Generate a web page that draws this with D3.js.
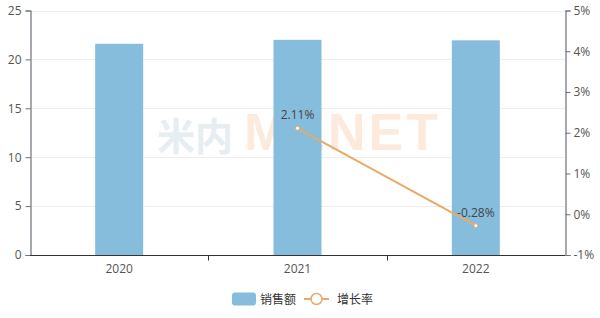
<!DOCTYPE html>
<html>
<head>
<meta charset="utf-8">
<script src="https://cdn.jsdelivr.net/npm/d3@7"></script>
<style>
  html, body { margin: 0; padding: 0; background: #fff; }
  svg text { font-family: "Open Sans", "Noto Sans CJK SC", sans-serif; }
</style>
</head>
<body>
<div id="chart"></div>
<script>
var years = ['2020', '2021', '2022'];
var sales = [21.6, 22.0, 21.95];
var growth = [null, 2.11, -0.28];
var leftTicks = [0, 5, 10, 15, 20, 25];
var rightTicks = [-1, 0, 1, 2, 3, 4, 5];
var legendNames = ['销售额', '增长率'];

(function() {
  var width = 600, height = 318,
      left = 30, right = 565, top = 10.5, bottom = 255,
      barColor = '#86bddc', lineColor = '#e8a96a',
      axisColor = '#6e7079', textColor = '#555';

  var svg = d3.select('#chart').append('svg')
      .attr('width', width)
      .attr('height', height);

  var x = d3.scaleBand().domain(years).range([left, right]);
  var yL = d3.scaleLinear().domain([0, 25]).range([bottom, top]);
  var yR = d3.scaleLinear().domain([-1, 5]).range([bottom, top]);

  // grid
  svg.append('g').selectAll('line').data(leftTicks.slice(1))
      .enter().append('line')
      .attr('x1', left).attr('x2', right)
      .attr('y1', function(d) { return Math.round(yL(d)) + 0.5; })
      .attr('y2', function(d) { return Math.round(yL(d)) + 0.5; })
      .attr('stroke', '#eeeeee');

  // watermark (behind the bars), one text so the two parts don't collide
  var wm = svg.append('text')
      .attr('x', 157).attr('y', 150)
      .attr('font-weight', 'bold');
  wm.append('tspan')
      .attr('font-size', 38)
      .attr('fill', '#e6eef2')
      .style('font-family', '"Noto Sans CJK SC", sans-serif')
      .text('米内');
  wm.append('tspan')
      .attr('dx', 11)
      .attr('font-size', 52)
      .attr('letter-spacing', 3)
      .attr('fill', '#fcebdc')
      .style('font-family', '"Liberation Sans", sans-serif')
      .text('MENET');

  // bars
  var barW = 48;
  svg.append('g').selectAll('rect').data(sales)
      .enter().append('rect')
      .attr('x', function(d, i) { return x(years[i]) + x.bandwidth() / 2 - barW / 2; })
      .attr('y', function(d) { return yL(d); })
      .attr('width', barW)
      .attr('height', function(d) { return bottom - yL(d); })
      .attr('fill', barColor);

  // left axis
  var axL = svg.append('g')
      .attr('transform', 'translate(' + (left + 0.5) + ',0)')
      .call(d3.axisLeft(yL).tickValues(leftTicks).tickSize(5).tickPadding(4));
  // right axis
  var axR = svg.append('g')
      .attr('transform', 'translate(' + (right + 0.5) + ',0)')
      .call(d3.axisRight(yR).tickValues(rightTicks).tickSize(5).tickPadding(3)
          .tickFormat(function(d) { return d + '%'; }));
  [axL, axR].forEach(function(ax) {
    ax.select('.domain').attr('stroke', axisColor).attr('stroke-width', 1.2);
    ax.selectAll('.tick line').attr('stroke', axisColor);
    ax.selectAll('.tick text').attr('fill', textColor).attr('font-size', 12);
  });

  // bottom axis
  var axB = svg.append('g').attr('transform', 'translate(0,' + (bottom + 0.5) + ')');
  axB.append('line').attr('x1', left).attr('x2', right)
      .attr('stroke', '#333').attr('stroke-width', 1);
  axB.selectAll('line.tk').data(years.slice(1))
      .enter().append('line').attr('class', 'tk')
      .attr('x1', function(d) { return Math.round(x(d)) + 0.5; })
      .attr('x2', function(d) { return Math.round(x(d)) + 0.5; })
      .attr('y1', 0).attr('y2', 5)
      .attr('stroke', '#333');
  axB.selectAll('text').data(years)
      .enter().append('text')
      .attr('x', function(d) { return x(d) + x.bandwidth() / 2; })
      .attr('y', 17)
      .attr('text-anchor', 'middle')
      .attr('font-size', 12).attr('fill', textColor)
      .text(function(d) { return d; });

  // line
  var pts = growth.map(function(v, i) { return { v: v, k: years[i] }; })
      .filter(function(p) { return p.v !== null; });
  var line = d3.line()
      .x(function(p) { return x(p.k) + x.bandwidth() / 2; })
      .y(function(p) { return yR(p.v); });
  svg.append('path').datum(pts)
      .attr('d', line)
      .attr('fill', 'none')
      .attr('stroke', lineColor)
      .attr('stroke-width', 2);
  svg.append('g').selectAll('circle').data(pts)
      .enter().append('circle')
      .attr('cx', function(p) { return x(p.k) + x.bandwidth() / 2; })
      .attr('cy', function(p) { return yR(p.v); })
      .attr('r', 2)
      .attr('fill', '#fff')
      .attr('stroke', lineColor)
      .attr('stroke-width', 1);
  svg.append('g').selectAll('text').data(pts)
      .enter().append('text')
      .attr('x', function(p) { return x(p.k) + x.bandwidth() / 2; })
      .attr('y', function(p) { return yR(p.v) - 9; })
      .attr('text-anchor', 'middle')
      .attr('font-size', 12).attr('fill', '#444')
      .text(function(p) { return p.v.toFixed(2) + '%'; });

  // legend
  var lg = svg.append('g').attr('transform', 'translate(0,299)');
  lg.append('rect').attr('x', 232).attr('y', -6.5).attr('width', 24).attr('height', 13)
      .attr('rx', 3).attr('fill', barColor);
  lg.append('text').attr('x', 260).attr('y', 4.5).attr('font-size', 12)
      .attr('fill', '#333').style('font-family', '"Noto Sans CJK SC", sans-serif')
      .text(legendNames[0]);
  lg.append('line').attr('x1', 304).attr('x2', 329).attr('y1', 0).attr('y2', 0)
      .attr('stroke', lineColor).attr('stroke-width', 2);
  lg.append('circle').attr('cx', 316.5).attr('cy', 0).attr('r', 5.5)
      .attr('fill', '#fff').attr('stroke', lineColor).attr('stroke-width', 1.5);
  lg.append('text').attr('x', 337).attr('y', 4.5).attr('font-size', 12)
      .attr('fill', '#333').style('font-family', '"Noto Sans CJK SC", sans-serif')
      .text(legendNames[1]);
})();
</script>
</body>
</html>
